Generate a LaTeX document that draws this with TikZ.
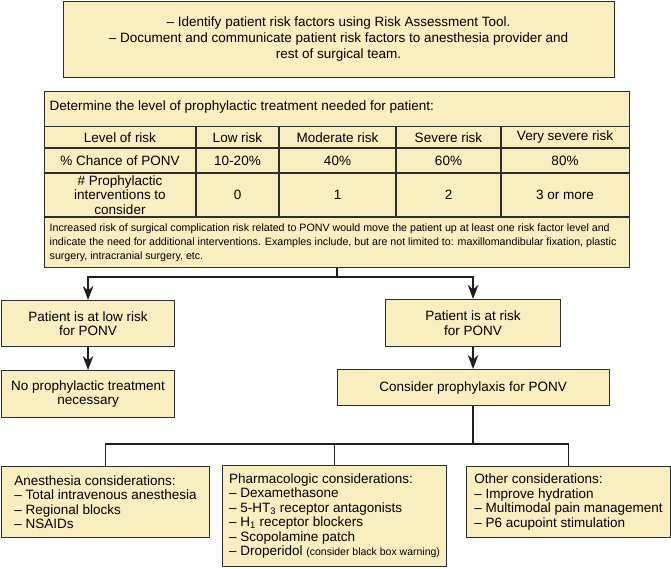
\documentclass[tikz,border=0pt]{standalone}
\usepackage{fontspec}
\setmainfont{Liberation Sans}
\usetikzlibrary{arrows.meta}
\definecolor{boxfill}{RGB}{249,238,192}
\definecolor{boxline}{RGB}{45,45,45}
\definecolor{connline}{RGB}{30,30,30}
\newcommand\fsmain{\fontsize{13.5}{16}\selectfont}
\newcommand\fsbox{\fontsize{13.5}{14.4}\selectfont}
\newcommand\fsnote{\fontsize{10.65}{14}\selectfont}
\newcommand\fssmall{\fontsize{10.5}{12}\selectfont}
\tikzset{
  box/.style={draw=boxline, fill=boxfill, line width=1.1pt, inner sep=0pt, align=center, anchor=north west, font=\fsbox},
  tblline/.style={draw=boxline, line width=1.1pt},
  cell/.style={inner sep=0pt, align=center, font=\fsmain},
  conn/.style={draw=connline, line width=1.7pt},
  arr/.style={conn, -{Stealth[length=14pt,width=10.5pt,inset=4.5pt]}}
}
\begin{document}
\begin{tikzpicture}[x=1pt,y=-1pt]
\useasboundingbox (0,0) rectangle (671,568);

% top box
\node[box, font=\fsmain, minimum width=551pt, minimum height=76.5pt] (top) at (62.5,0.6)
  {– Identify patient risk factors using Risk Assessment Tool.\\
   – Document and communicate patient risk factors to anesthesia provider and\\
   rest of surgical team.};

% table
\node[box, minimum width=585pt, minimum height=176pt] (tbl) at (44,91) {};
\draw[tblline] (44,126.5) -- (629,126.5);
\draw[tblline] (44,148) -- (629,148);
\draw[tblline] (44,173) -- (629,173);
\draw[tblline] (44,217) -- (629,217);
\foreach \cx in {196,279,396,501} \draw[tblline] (\cx,126.5) -- (\cx,217);

\node[cell, anchor=west] (hdr) at (49.5,107.5) {Determine the level of prophylactic treatment needed for patient:};
\node[cell] (c00) at (120,137.5) {Level of risk};
\node[cell] (c01) at (237.5,137.5) {Low risk};
\node[cell] (c02) at (337.5,137.5) {Moderate risk};
\node[cell] (c03) at (448.5,137.5) {Severe risk};
\node[cell] (c04) at (565,137.5) {Very severe risk};
\node[cell] (c10) at (120,160.5) {\% Chance of PONV};
\node[cell] (c11) at (237.5,160.5) {10-20\%};
\node[cell] (c12) at (337.5,160.5) {40\%};
\node[cell] (c13) at (448.5,160.5) {60\%};
\node[cell] (c14) at (565,160.5) {80\%};
\node[cell, font=\fsbox] (c20) at (120,195) {\# Prophylactic\\interventions to\\consider};
\node[cell] (c21) at (237.5,195) {0};
\node[cell] (c22) at (337.5,195) {1};
\node[cell] (c23) at (448.5,195) {2};
\node[cell] (c24) at (565,195) {3 or more};
\node[cell, anchor=west, align=left, font=\fsnote] (note) at (49.5,242.5)
  {Increased risk of surgical complication risk related to PONV would move the patient up at least one risk factor level and\\
   indicate the need for additional interventions. Examples include, but are not limited to: maxillomandibular fixation, plastic\\
   surgery, intracranial surgery, etc.};

% middle boxes
\node[box, minimum width=173pt, minimum height=46pt] (low) at (1,300) {Patient is at low risk\\for PONV};
\node[box, minimum width=173pt, minimum height=47pt] (nopro) at (1,370) {No prophylactic treatment\\necessary};
\node[box, minimum width=175pt, minimum height=47pt] (atrisk) at (385,299) {Patient is at risk\\for PONV};
\node[box, minimum width=272pt, minimum height=36pt] (consider) at (336.5,369) {Consider prophylaxis for PONV};

% bottom boxes
\node[box, align=left, minimum width=208pt, minimum height=71pt] (anes) at (1,466)
  {Anesthesia considerations:\\– Total intravenous anesthesia\\– Regional blocks\\– NSAIDs};
\node[box, align=left, minimum width=224pt, minimum height=101pt] (pharm) at (222,465)
  {Pharmacologic considerations:\\– Dexamethasone\\– 5-HT\textsubscript{3} receptor antagonists\\– H\textsubscript{1} receptor blockers\\– Scopolamine patch\\– Droperidol {\fssmall (consider black box warning)}};
\node[box, align=left, minimum width=204pt, minimum height=71pt] (other) at (466,466)
  {Other considerations:\\– Improve hydration\\– Multimodal pain management\\– P6 acupoint stimulation};

% connectors
\draw[conn] (tbl.south) -- ++(0,9) coordinate (j1);
\draw[arr] (j1) -| (low.north);
\draw[arr] (j1) -| (atrisk.north);
\draw[arr] (low.south) -- (nopro.north);
\draw[arr] (atrisk.south) -- (consider.north);
\draw[conn] (consider.south) -- ++(0,38) coordinate (j2);
\draw[conn] (j2) -| (anes.north);
\draw[conn] (j2) -| (other.north);
\draw[conn] (pharm.north) -- (pharm.north |- j2);
\end{tikzpicture}
\end{document}
